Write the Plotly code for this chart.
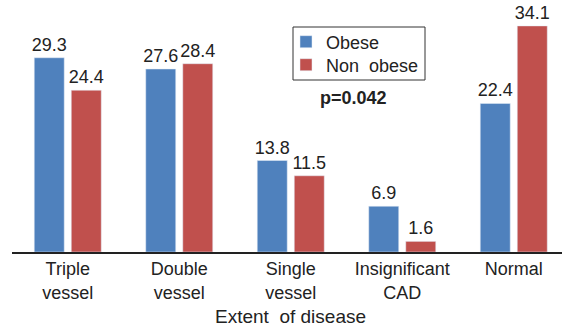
import plotly.graph_objects as go

categories = ["Triple<br>vessel", "Double<br>vessel", "Single<br>vessel", "Insignificant<br>CAD", "Normal"]
obese = [29.3, 27.6, 13.8, 6.9, 22.4]
non_obese = [24.4, 28.4, 11.5, 1.6, 34.1]

W, H = 563, 330
ml, mr, mt, mb = 12, 1, 18, 78
pw = W - ml - mr
ph = H - mt - mb

FONT = "Liberation Sans, Arial, sans-serif"
TXT = "#222222"

def sx(x):  # screen px -> paper x
    return (x - ml) / pw

def sy(y):  # screen px -> paper y
    return 1 - (y - mt) / ph

fig = go.Figure()
for i, (name, vals, col) in enumerate([("Obese", obese, "#4F81BD"), ("Non  obese", non_obese, "#C0504D")]):
    fig.add_trace(go.Bar(x=categories, y=vals, name=name, marker_color=col,
                         legend="legend" if i == 0 else "legend2",
                         text=[f"{v:.1f}" for v in vals], textposition="outside",
                         constraintext="none",
                         textfont=dict(size=18, color=TXT, family=FONT), cliponaxis=False))

leg_common = dict(xanchor="left", yanchor="middle", bgcolor="rgba(0,0,0,0)", borderwidth=0,
                  font=dict(size=18, color=TXT, family=FONT), itemwidth=30)

fig.update_layout(
    width=W, height=H,
    margin=dict(l=ml, r=mr, t=mt, b=mb, autoexpand=False),
    paper_bgcolor="white", plot_bgcolor="white",
    barmode="group", bargap=0.336, bargroupgap=0.19,
    font=dict(family=FONT, size=18, color=TXT),
    showlegend=True,
    legend=dict(x=sx(286), y=sy(42), **leg_common),
    legend2=dict(x=sx(286), y=sy(65), **leg_common),
    xaxis=dict(range=[-0.5, -0.5 + pw / 111.5], showline=True, linecolor="#222222", linewidth=1.5,
               ticks="", tickfont=dict(size=18, color=TXT, family=FONT)),
    yaxis=dict(range=[0, ph / 6.63], visible=False),
    shapes=[dict(type="rect", xref="paper", yref="paper",
                 x0=sx(293), x1=sx(425), y0=sy(80), y1=sy(27),
                 line=dict(color="#333333", width=1), fillcolor="rgba(0,0,0,0)", layer="above")],
    annotations=[
        dict(text="<b>p=0.042</b>", x=sx(353), y=sy(98),
             xref="paper", yref="paper", showarrow=False, yanchor="middle",
             font=dict(size=18, color=TXT, family=FONT)),
        dict(text="Extent  of disease", x=sx(290), y=sy(316),
             xref="paper", yref="paper", showarrow=False, yanchor="middle",
             font=dict(size=19, color=TXT, family=FONT)),
    ],
)

fig.write_html("out.html", config={"displayModeBar": False},
               post_script="document.body.style.margin='0';")
